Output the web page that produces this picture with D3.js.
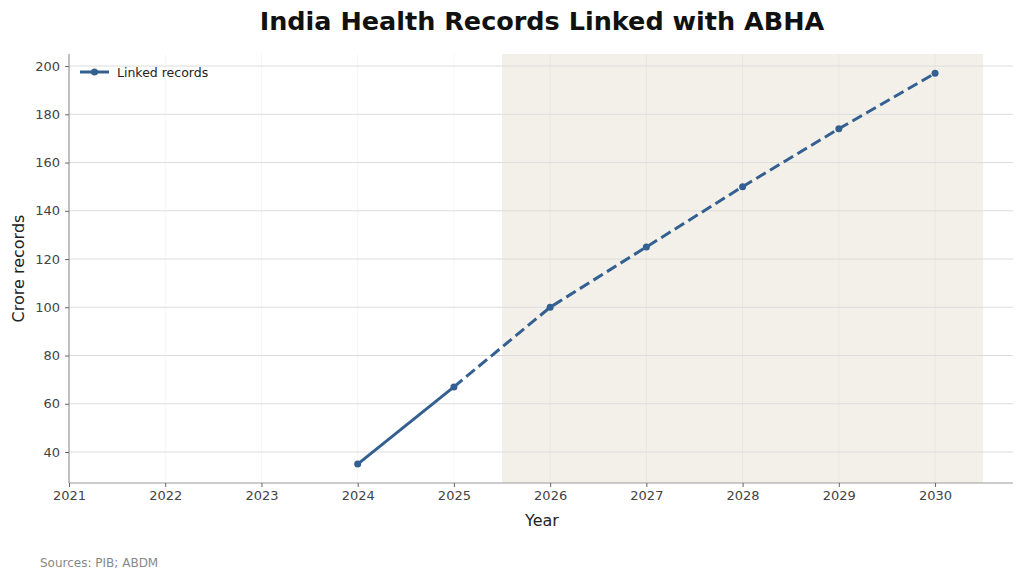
<!DOCTYPE html>
<html>
<head>
<meta charset="utf-8">
<script src="https://cdn.jsdelivr.net/npm/d3@7"></script>
<style>
  body { margin: 0; background: #fff; }
  text { font-family: "DejaVu Sans", sans-serif; }
</style>
</head>
<body>
<svg width="1024" height="579"></svg>
<script>
let years = [2024, 2025, 2026, 2027, 2028, 2029, 2030];
let records = [35, 67, 100, 125, 150, 174, 197];
let lastActual = 2025;
let xTicks = [2021, 2022, 2023, 2024, 2025, 2026, 2027, 2028, 2029, 2030];
let yTicks = [40, 60, 80, 100, 120, 140, 160, 180, 200];

let svg = d3.select("svg");
let plotLeft = 69, plotRight = 1013, plotTop = 54, plotBottom = 483;

let x = d3.scaleLinear().domain([2021, 2030.81]).range([plotLeft, plotRight]);
let y = d3.scaleLinear().domain([27.15, 205]).range([plotBottom, plotTop]);

let data = years.map((d, i) => ({ year: d, value: records[i] }));

//projection band
svg.append("rect")
  .attr("x", x(lastActual + 0.5))
  .attr("y", plotTop)
  .attr("width", x(2030.5) - x(lastActual + 0.5))
  .attr("height", plotBottom - plotTop)
  .attr("fill", "#f3f0ea");

//grid
svg.append("g")
  .selectAll("line")
  .data(xTicks)
  .enter()
  .append("line")
  .attr("x1", d => x(d)).attr("x2", d => x(d))
  .attr("y1", plotTop).attr("y2", plotBottom)
  .attr("stroke", "#000").attr("stroke-opacity", 0.04);

svg.append("g")
  .selectAll("line")
  .data(yTicks)
  .enter()
  .append("line")
  .attr("x1", plotLeft).attr("x2", plotRight)
  .attr("y1", d => y(d)).attr("y2", d => y(d))
  .attr("stroke", "#dcdcdc").attr("stroke-width", 1);

//axes
let xAxis = svg.append("g")
  .attr("transform", "translate(0," + plotBottom + ")")
  .call(d3.axisBottom(x).tickValues(xTicks).tickFormat(d3.format("d")).tickSize(4).tickPadding(4));
let yAxis = svg.append("g")
  .attr("transform", "translate(" + plotLeft + ",0)")
  .call(d3.axisLeft(y).tickValues(yTicks).tickSize(4).tickPadding(5));

[xAxis, yAxis].forEach(a => {
  a.select(".domain").attr("stroke", "#999").attr("stroke-width", 1.2);
  a.selectAll(".tick line").attr("stroke", "#666");
  a.selectAll(".tick text").attr("fill", "#444").attr("font-size", 13)
    .style("font-family", "DejaVu Sans, sans-serif");
});
// keep the spines without end ticks
xAxis.select(".domain").attr("d", "M" + plotLeft + ",0H" + plotRight);
yAxis.select(".domain").attr("d", "M0," + plotBottom + "V" + plotTop);

//line
let line = d3.line().x(d => x(d.year)).y(d => y(d.value));
let color = "#336091";

svg.append("path")
  .datum(data.filter(d => d.year <= lastActual))
  .attr("d", line)
  .attr("fill", "none").attr("stroke", color).attr("stroke-width", 3);

svg.append("path")
  .datum(data.filter(d => d.year >= lastActual))
  .attr("d", line)
  .attr("fill", "none").attr("stroke", color).attr("stroke-width", 3)
  .attr("stroke-dasharray", "11,5");

svg.append("g")
  .selectAll("circle")
  .data(data)
  .enter()
  .append("circle")
  .attr("cx", d => x(d.year)).attr("cy", d => y(d.value))
  .attr("r", 3.5).attr("fill", color);

//legend
svg.append("line")
  .attr("x1", 80).attr("x2", 109).attr("y1", 72).attr("y2", 72)
  .attr("stroke", color).attr("stroke-width", 3);
svg.append("circle").attr("cx", 94.5).attr("cy", 72).attr("r", 3.5).attr("fill", color);
svg.append("text").attr("x", 117).attr("y", 76.5)
  .attr("font-size", 12.5).attr("fill", "#222").text("Linked records");

//labels
svg.append("text").attr("x", 542).attr("y", 30)
  .attr("text-anchor", "middle").attr("font-size", 25.5).attr("font-weight", "bold")
  .attr("fill", "#111").text("India Health Records Linked with ABHA");
svg.append("text").attr("x", 542).attr("y", 526)
  .attr("text-anchor", "middle").attr("font-size", 16).attr("fill", "#222").text("Year");
svg.append("text")
  .attr("transform", "translate(24," + ((plotTop + plotBottom) / 2) + ") rotate(-90)")
  .attr("text-anchor", "middle").attr("font-size", 16).attr("fill", "#222").text("Crore records");
svg.append("text").attr("x", 40).attr("y", 567)
  .attr("font-size", 12).attr("fill", "#888").text("Sources: PIB; ABDM");
</script>
</body>
</html>
